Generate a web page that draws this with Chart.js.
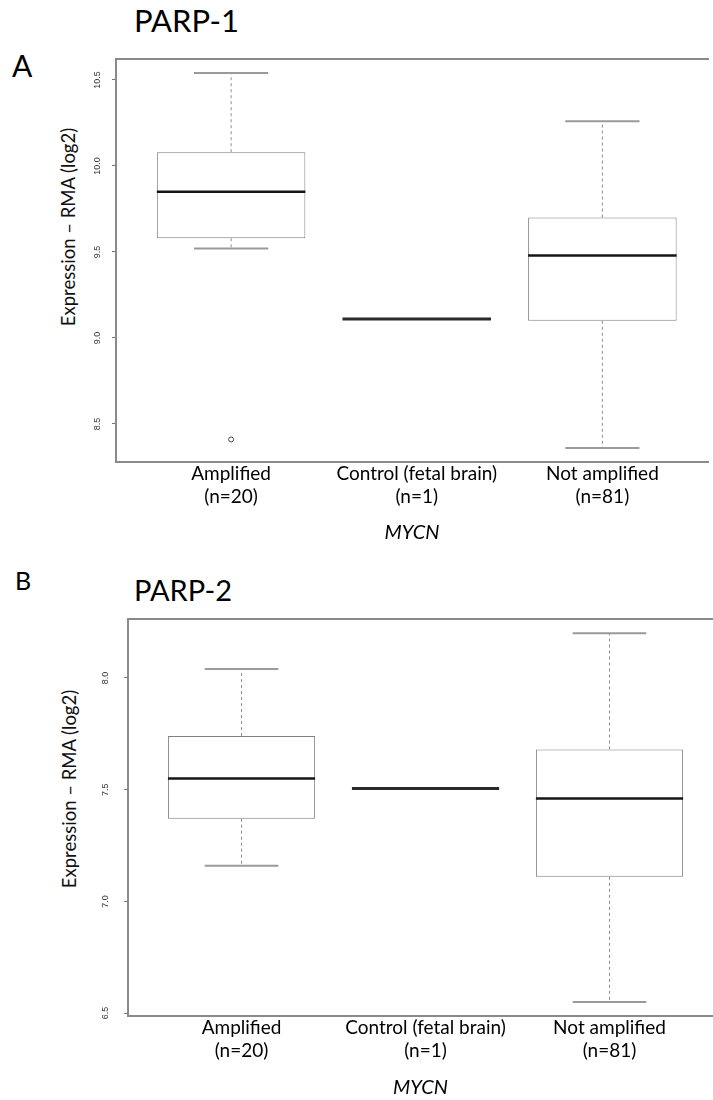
<!DOCTYPE html>
<html>
<head>
<meta charset="utf-8">
<script src="https://cdn.jsdelivr.net/npm/chart.js@4.4.1/dist/chart.umd.min.js"></script>
<style>
  body { margin: 0; background: #fff; font-family: Lato, sans-serif; }
  #page { position: relative; width: 713px; height: 1100px; overflow: hidden; background: #fff; }
  .txt { position: absolute; line-height: 1; color: #000; white-space: nowrap; }
  .ylab { position: absolute; width: 260px; height: 18px; line-height: 18px; font-size: 18.5px;
          text-align: center; color: #111; white-space: nowrap; transform: rotate(-90deg); }
  .wrap { position: absolute; left: 0; width: 713px; }
</style>
</head>
<body>
<div id="page">
  <div class="txt" style="left:134px; top:5px; font-size:31px;">PARP-1</div>
  <div class="txt" style="left:12px; top:50px; font-size:30px;">A</div>
  <div class="ylab" style="left:-62px; top:218px;">Expression – RMA (log2)</div>
  <div class="wrap" style="top:0; height:560px;"><canvas id="chartA" width="713" height="560"></canvas></div>

  <div class="txt" style="left:15px; top:568px; font-size:25px;">B</div>
  <div class="txt" style="left:134px; top:575px; font-size:29px;">PARP-2</div>
  <div class="ylab" style="left:-61px; top:780px;">Expression – RMA (log2)</div>
  <div class="wrap" style="top:560px; height:540px;"><canvas id="chartB" width="713" height="540"></canvas></div>
</div>

<script>
// groups on the x axis
const groups = ["Amplified", "Control (fetal brain)", "Not amplified"];
const groupSizes = ["(n=20)", "(n=1)", "(n=81)"];
const groupPos = [1, 2, 3];

// PARP-1 (panel A): whisker ends, quartiles, medians
const parp1Low = [9.52, 9.11, 8.36];
const parp1Q1 = [9.58, 9.11, 9.10];
const parp1Median = [9.85, 9.11, 9.48];
const parp1Q3 = [10.08, 9.11, 9.70];
const parp1High = [10.54, 9.11, 10.26];
const parp1OutlierX = [1];
const parp1OutlierY = [8.41];
const parp1Ticks = [8.5, 9.0, 9.5, 10.0, 10.5];

// PARP-2 (panel B)
const parp2Low = [7.16, 7.505, 6.55];
const parp2Q1 = [7.37, 7.505, 7.11];
const parp2Median = [7.55, 7.505, 7.46];
const parp2Q3 = [7.74, 7.505, 7.68];
const parp2High = [8.04, 7.505, 8.20];
const parp2OutlierX = [];
const parp2OutlierY = [];
const parp2Ticks = [6.5, 7.0, 7.5, 8.0];

const frameColor = "#8a8a8a";

// whiskers, caps and medians, drawn on the chart's own scales
const boxParts = {
  id: "boxParts",
  afterDatasetsDraw(chart, args, o) {
    const xs = chart.scales.x, ys = chart.scales.y, ctx = chart.ctx;
    ctx.save();
    o.pos.forEach(function (p, i) {
      const cx = xs.getPixelForValue(p);
      const capL = xs.getPixelForValue(p - 0.2), capR = xs.getPixelForValue(p + 0.2);
      const boxL = xs.getPixelForValue(p - 0.4), boxR = xs.getPixelForValue(p + 0.4);
      const whisk = function (from, to) {
        ctx.setLineDash([3, 3]);
        ctx.lineWidth = 1;
        ctx.strokeStyle = "#8c8c8c";
        ctx.beginPath();
        ctx.moveTo(cx, ys.getPixelForValue(from));
        ctx.lineTo(cx, ys.getPixelForValue(to));
        ctx.stroke();
        ctx.setLineDash([]);
        ctx.lineWidth = 2;
        ctx.strokeStyle = "#9a9a9a";
        ctx.beginPath();
        ctx.moveTo(capL, ys.getPixelForValue(to));
        ctx.lineTo(capR, ys.getPixelForValue(to));
        ctx.stroke();
      };
      if (o.high[i] > o.q3[i]) whisk(o.q3[i], o.high[i]);
      if (o.low[i] < o.q1[i]) whisk(o.q1[i], o.low[i]);
      const flat = o.q1[i] === o.q3[i];
      ctx.setLineDash([]);
      ctx.lineWidth = flat ? 3 : 2.5;
      ctx.strokeStyle = flat ? "#2a2a2a" : "#161616";
      const my = ys.getPixelForValue(o.median[i]);
      ctx.beginPath();
      ctx.moveTo(boxL, my);
      ctx.lineTo(boxR, my);
      ctx.stroke();
    });
    ctx.restore();
  }
};

function makeBoxChart(id, low, q1, median, q3, high, outX, outY, yTicks, lay) {
  const ctx = document.getElementById(id).getContext("2d");
  const boxes = groupPos.map(function (p, i) { return { x: p, y: [q1[i], q3[i]] }; });
  const outliers = outX.map(function (p, i) { return { x: p, y: outY[i] }; });
  return new Chart(ctx, {
    type: "bar",
    data: {
      datasets: [
        {
          type: "bar",
          data: boxes,
          backgroundColor: "#ffffff",
          borderColor: "#808080",
          borderWidth: 1,
          borderSkipped: false,
          categoryPercentage: 1.0,
          barPercentage: 0.8
        },
        {
          type: "scatter",
          data: outliers,
          pointStyle: "circle",
          pointRadius: 2.5,
          borderColor: "#444",
          borderWidth: 1,
          backgroundColor: "rgba(0,0,0,0)"
        }
      ]
    },
    options: {
      responsive: false,
      animation: false,
      layout: { padding: { top: lay.top, left: 0, right: 0, bottom: 0 } },
      plugins: {
        legend: { display: false },
        tooltip: { enabled: false },
        boxParts: { pos: groupPos, low: low, q1: q1, median: median, q3: q3, high: high }
      },
      scales: {
        x: {
          type: "linear",
          min: lay.xMin,
          max: lay.xMax,
          offset: false,
          grid: { display: false, drawTicks: false, offset: false },
          border: { display: true, color: frameColor, width: 2 },
          afterBuildTicks: function (s) { s.ticks = groupPos.map(function (v) { return { value: v }; }); },
          ticks: {
            autoSkip: false,
            maxRotation: 0,
            padding: lay.labelPad,
            color: "#000",
            font: { family: "Lato", size: 19, lineHeight: 1.24 },
            callback: function (v, i) { return [groups[i], groupSizes[i]]; }
          },
          title: {
            display: true,
            text: "MYCN",
            color: "#000",
            font: { family: "Lato", size: 20, style: "italic" },
            padding: { top: 0, bottom: lay.titlePad }
          },
          afterFit: function (s) { s.height = lay.xHeight; }
        },
        x2: {
          type: "linear",
          position: "top",
          min: lay.xMin,
          max: lay.xMax,
          grid: { display: false, drawTicks: false },
          ticks: { display: false },
          border: { display: true, color: frameColor, width: 2 },
          afterFit: function (s) { s.height = 0; }
        },
        y: {
          type: "linear",
          min: lay.yMin,
          max: lay.yMax,
          afterBuildTicks: function (s) { s.ticks = yTicks.map(function (v) { return { value: v }; }); },
          grid: { drawOnChartArea: false, drawTicks: true, tickLength: 4, color: "#777" },
          border: { display: true, color: frameColor, width: 2 },
          ticks: {
            minRotation: 90,
            maxRotation: 90,
            crossAlign: "center",
            padding: lay.tickPad,
            color: "#333",
            font: { family: "Liberation Sans", size: 9 },
            callback: function (v) { return Number(v).toFixed(1); }
          },
          afterFit: function (s) { s.width = lay.yWidth; }
        }
      }
    },
    plugins: [boxParts]
  });
}

document.addEventListener("DOMContentLoaded", function () {
  makeBoxChart("chartA", parp1Low, parp1Q1, parp1Median, parp1Q3, parp1High,
    parp1OutlierX, parp1OutlierY, parp1Ticks,
    { top: 59, yWidth: 116, xHeight: 98, xMin: 0.38, xMax: 3.569,
      yMin: 8.279, yMax: 10.622, labelPad: 0, titlePad: 15, tickPad: 6 });
  makeBoxChart("chartB", parp2Low, parp2Q1, parp2Median, parp2Q3, parp2High,
    parp2OutlierX, parp2OutlierY, parp2Ticks,
    { top: 59, yWidth: 128, xHeight: 84, xMin: 0.383, xMax: 3.5625,
      yMin: 6.487, yMax: 8.264, labelPad: 0, titlePad: 0, tickPad: 12 });
});
</script>
</body>
</html>
